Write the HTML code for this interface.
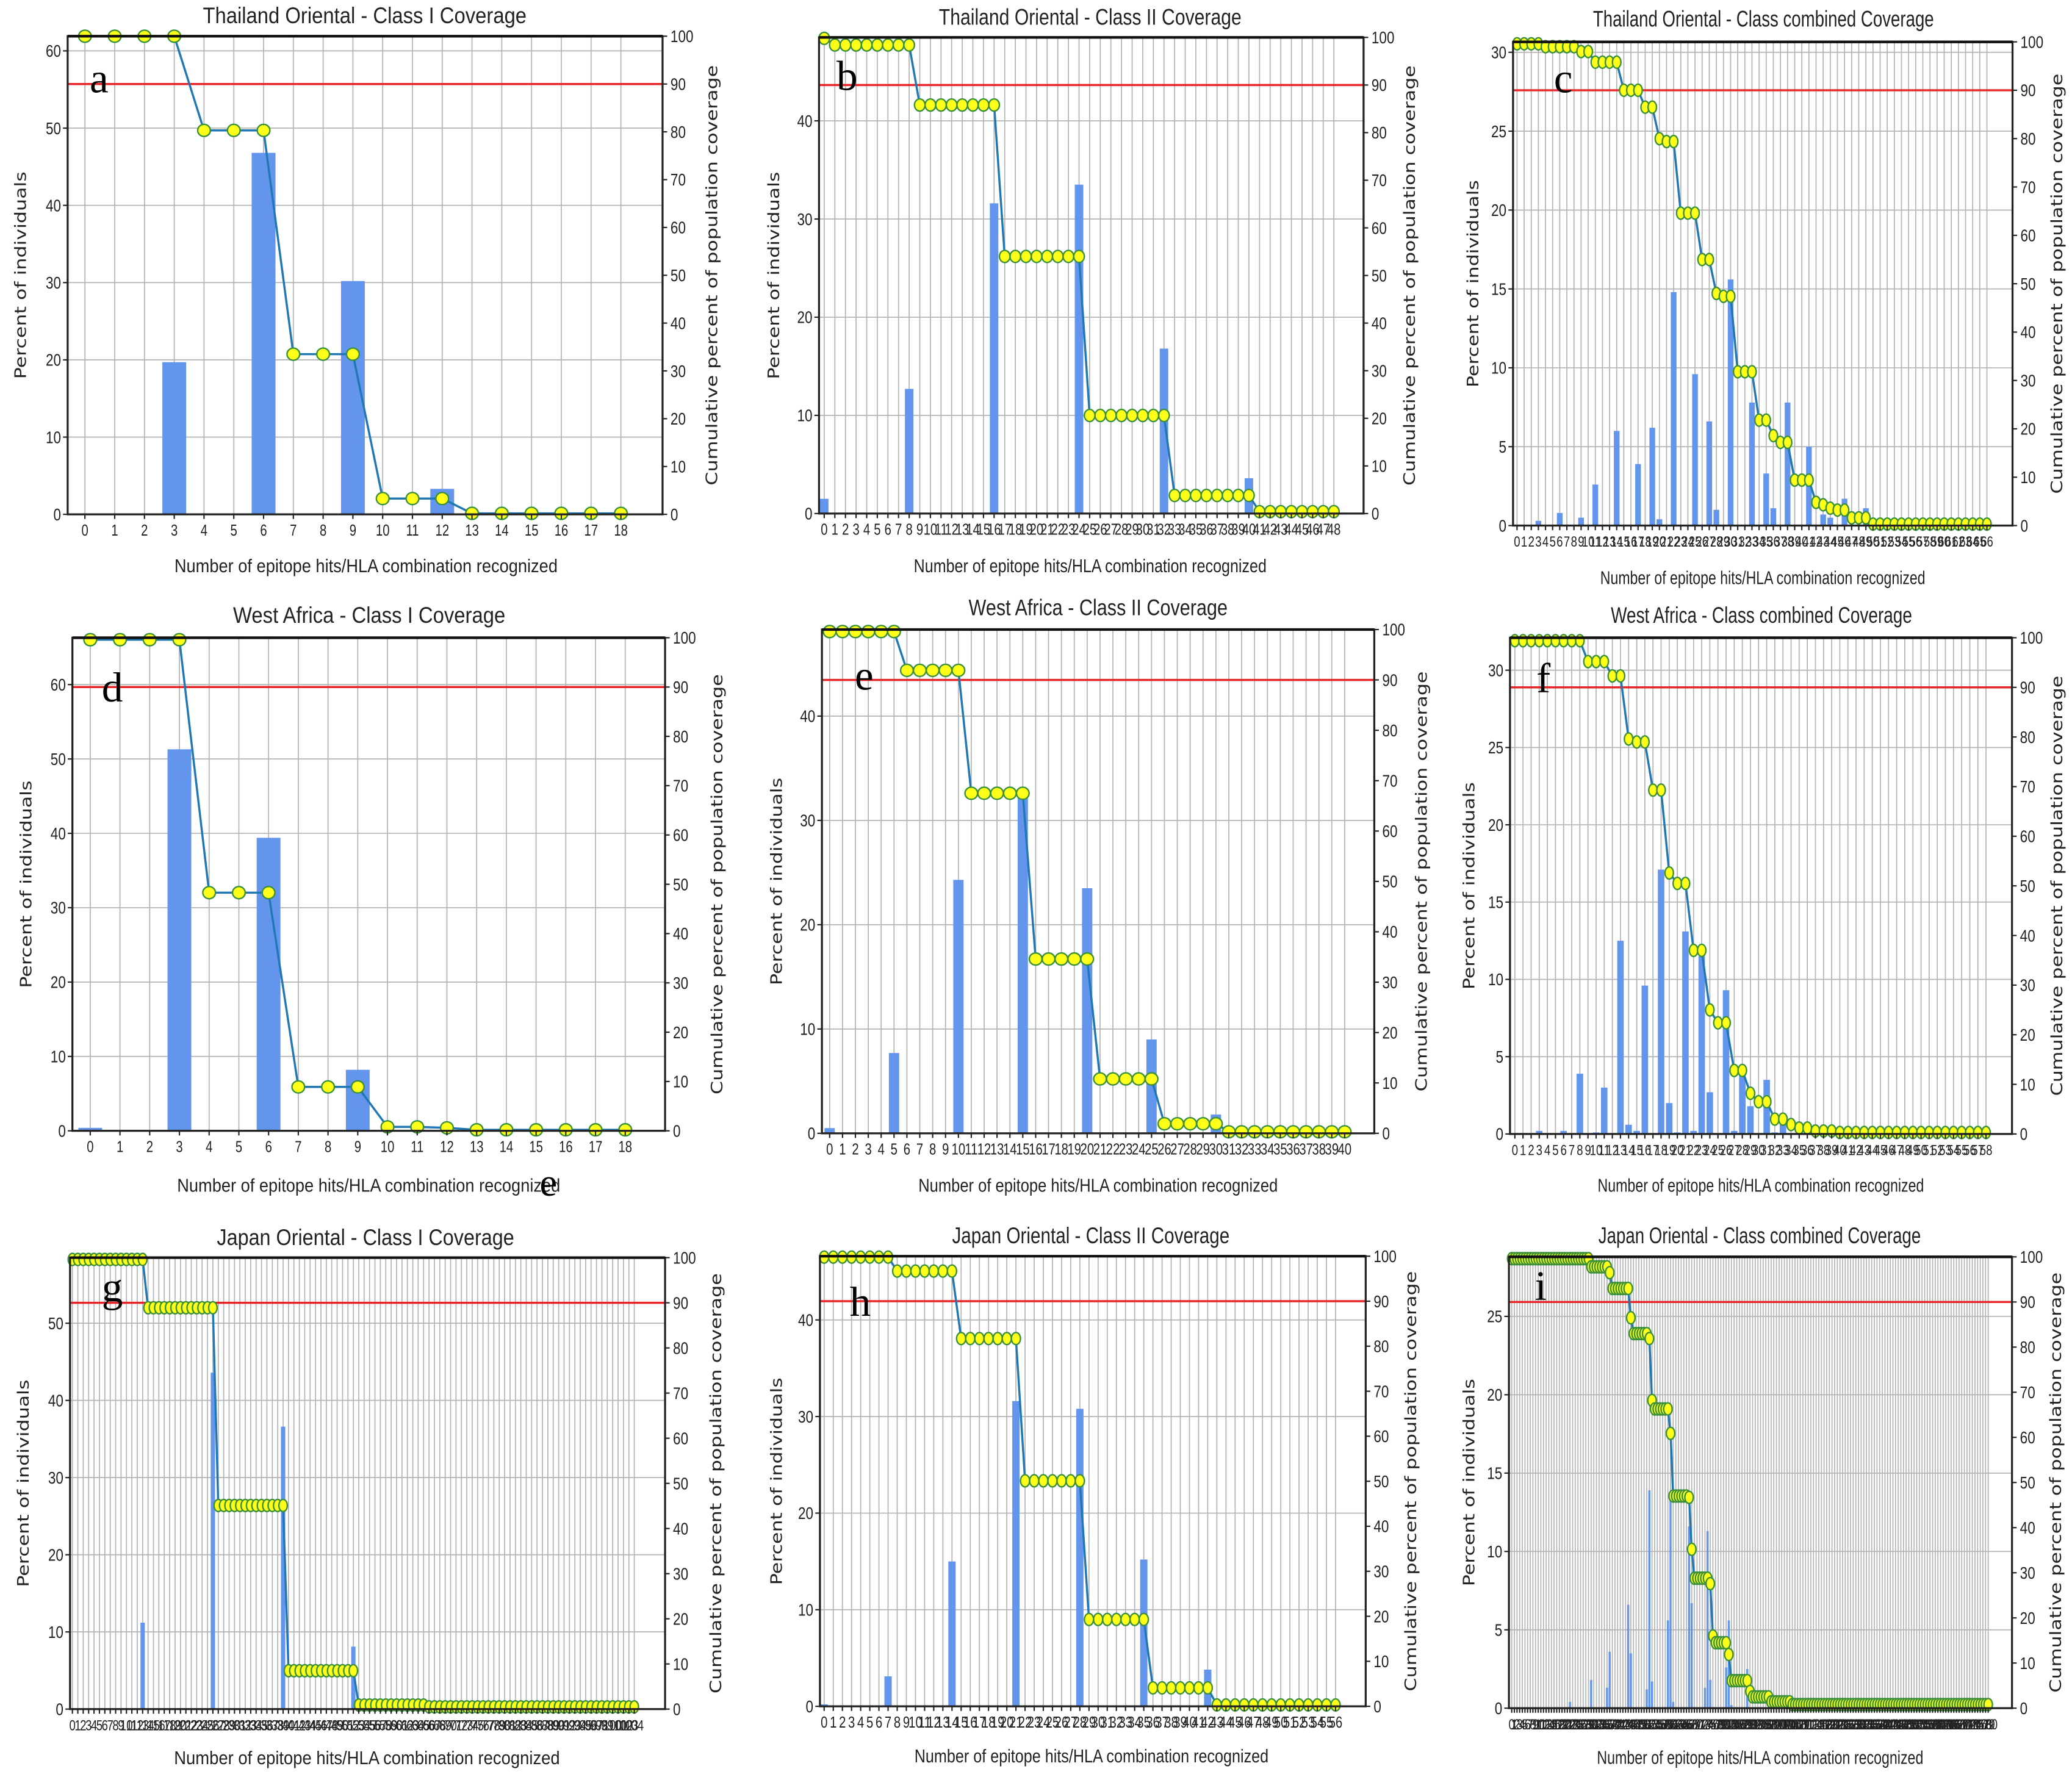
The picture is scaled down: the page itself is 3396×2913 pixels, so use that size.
<!DOCTYPE html>
<html><head><meta charset="utf-8"><title>Epitope population coverage</title>
<style>
html,body{margin:0;padding:0;background:#fff;}
svg{display:block;}
text{font-family:"Liberation Sans","DejaVu Sans",sans-serif;fill:#222;}
</style></head>
<body>
<svg id="fig" xmlns="http://www.w3.org/2000/svg" width="3396" height="2913" viewBox="0 0 1568 1345" preserveAspectRatio="none">
<rect x="0" y="0" width="1568" height="1345" fill="#fff"/>
</svg>
<script>
// ---------- DATA ----------
const aCategoryCount = 19;
const aBarCats = [3,6,9,12];
const aBarVals = [19.7,46.8,30.2,3.3];
const aCum = [100,100,100,100,80.3,80.3,80.3,33.5,33.5,33.5,3.3,3.3,3.3,0.2,0.2,0.2,0.2,0.2,0.2];
const aLeftTicks = [0,10,20,30,40,50,60];

const bCategoryCount = 49;
const bBarCats = [0,8,16,24,32,40];
const bBarVals = [1.5,12.7,31.6,33.5,16.8,3.6];
const bCum = [99.8,
 98.4,98.4,98.4,98.4,98.4,98.4,98.4,98.4,
 85.8,85.8,85.8,85.8,85.8,85.8,85.8,85.8,
 54,54,54,54,54,54,54,54,
 20.6,20.6,20.6,20.6,20.6,20.6,20.6,20.6,
 3.8,3.8,3.8,3.8,3.8,3.8,3.8,3.8,
 0.4,0.4,0.4,0.4,0.4,0.4,0.4,0.4];
const bLeftTicks = [0,10,20,30,40];

const cCategoryCount = 67;
const cBarCats = [3,6,9,11,14,17,19,20,22,25,27,28,30,33,35,36,38,41,43,44,46,49];
const cBarVals = [0.3,0.8,0.5,2.6,6.0,3.9,6.2,0.4,14.8,9.6,6.6,1.0,15.6,7.8,3.3,1.1,7.8,5.0,0.7,0.5,1.7,1.1];
const cCum = [99.6,99.6,99.6,99.6, 99,99,99,99,99, 98,98, 95.8,95.8,95.8,95.8, 90,90,90, 86.5,86.5, 80, 79.4,79.4,
 64.6,64.6,64.6, 55,55, 48, 47.4,47.4, 31.8,31.8,31.8, 21.8,21.8, 18.6, 17.2,17.2, 9.4,9.4,9.4, 4.8, 4.3, 3.6, 3.2,3.2,
 1.6,1.6,1.6,
 0.3,0.3,0.3,0.3,0.3,0.3,0.3,0.3,0.3,0.3,0.3,0.3,0.3,0.3,0.3,0.3,0.3];
const cLeftTicks = [0,5,10,15,20,25,30];

const dCategoryCount = 19;
const dBarCats = [0,3,6,9];
const dBarVals = [0.4,51.3,39.4,8.2];
const dCum = [99.6,99.6,99.6,99.6,48.3,48.3,48.3,8.9,8.9,8.9,0.8,0.8,0.6,0.2,0.2,0.2,0.2,0.2,0.2];
const dLeftTicks = [0,10,20,30,40,50,60];

const eCategoryCount = 41;
const eBarCats = [0,5,10,15,20,25,30];
const eBarVals = [0.5,7.7,24.3,32.8,23.5,9.0,1.8];
const eCum = [99.6,99.6,99.6,99.6,99.6,99.6,
 91.9,91.9,91.9,91.9,91.9,
 67.5,67.5,67.5,67.5,67.5,
 34.6,34.6,34.6,34.6,34.6,
 10.8,10.8,10.8,10.8,10.8,
 1.9,1.9,1.9,1.9,1.9,
 0.3,0.3,0.3,0.3,0.3,0.3,0.3,0.3,0.3,0.3];
const eLeftTicks = [0,10,20,30,40];

const fCategoryCount = 59;
const fBarCats = [3,6,8,10,11,13,14,15,16,18,19,20,21,22,23,24,26,27,28,29,31,32,33];
const fBarVals = [0.2,0.2,3.9,0.1,3.0,12.5,0.6,0.2,9.6,17.1,2.0,0.1,13.1,0.2,11.5,2.7,9.3,0.2,3.8,1.8,3.5,0.1,0.6];
const fCum = [99.4,99.4,99.4,99.4,99.4,99.4,99.4,99.4,99.4,
 95.2,95.2,95.2, 92.3,92.3, 79.6, 79,79, 69.3,69.3, 52.6, 50.5,50.5, 37,37, 25, 22.4,22.4,
 12.8,12.8, 8.2, 6.5,6.5, 3,3, 1.9, 1.2,1.2, 0.6,0.6,0.6,
 0.3,0.3,0.3,0.3,0.3,0.3,0.3,0.3,0.3,0.3,0.3,0.3,0.3,0.3,0.3,0.3,0.3,0.3,0.3];
const fLeftTicks = [0,5,10,15,20,25,30];

const gCategoryCount = 105;
const gBarCats = [13,26,39,52,65];
const gBarVals = [11.2,43.6,36.6,8.1,0.4];
const gCum = [
 99.6,99.6,99.6,99.6,99.6,99.6,99.6,99.6,99.6,99.6,99.6,99.6,99.6,99.6,
 88.9,88.9,88.9,88.9,88.9,88.9,88.9,88.9,88.9,88.9,88.9,88.9,88.9,
 45.1,45.1,45.1,45.1,45.1,45.1,45.1,45.1,45.1,45.1,45.1,45.1,45.1,
 8.5,8.5,8.5,8.5,8.5,8.5,8.5,8.5,8.5,8.5,8.5,8.5,8.5,
 0.9,0.9,0.9,0.9,0.9,0.9,0.9,0.9,0.9,0.9,0.9,0.9,0.9,
 0.5,0.5,0.5,0.5,0.5,0.5,0.5,0.5,0.5,0.5,
 0.5,0.5,0.5,0.5,0.5,0.5,0.5,0.5,0.5,0.5,
 0.5,0.5,0.5,0.5,0.5,0.5,0.5,0.5,0.5,0.5,
 0.5,0.5,0.5,0.5,0.5,0.5,0.5,0.5,0.5];
const gLeftTicks = [0,10,20,30,40,50];

const hCategoryCount = 57;
const hBarCats = [0,7,14,21,28,35,42];
const hBarVals = [0.2,3.1,15.0,31.6,30.8,15.2,3.8];
const hCum = [99.8,99.8,99.8,99.8,99.8,99.8,99.8,99.8,
 96.7,96.7,96.7,96.7,96.7,96.7,96.7,
 81.7,81.7,81.7,81.7,81.7,81.7,81.7,
 50.1,50.1,50.1,50.1,50.1,50.1,50.1,
 19.3,19.3,19.3,19.3,19.3,19.3,19.3,
 4.1,4.1,4.1,4.1,4.1,4.1,4.1,
 0.3,0.3,0.3,0.3,0.3,0.3,0.3,0.3,0.3,0.3,0.3,0.3,0.3,0.3];
const hLeftTicks = [0,10,20,30,40];

const iCategoryCount = 181;
const iBarCats = [22,30,36,37,44,45,51,52,53,59,60,61,67,68,73,74,75,81,82,83,89];
const iBarVals = [0.4,1.8,1.3,3.6,6.6,3.5,1.2,13.9,1.7,5.6,13.5,0.4,11.6,6.7,1.3,11.3,1.8,2.6,5.6,0.2,2.5];
const iCum = [
 99.6,99.6,99.6,99.6,99.6,99.6,99.6,99.6,99.6,99.6,
 99.6,99.6,99.6,99.6,99.6,99.6,99.6,99.6,99.6,99.6,
 99.6,99.6,99.6,99.6,99.6,99.6,99.6,99.6,99.6,99.6,
 97.8,97.8,97.8,97.8,97.8,97.8,97.8,
 96.5,
 93,93,93,93,93,93,93,
 86.5,
 83,83,83,83,83,83,
 81.9,
 68.2,
 66.3,66.3,66.3,66.3,66.3,66.3,
 60.9,
 47,47,47,47,47,47,
 46.7,
 35.2,
 28.8,28.8,28.8,28.8,28.8,28.8,
 27.6,
 16,
 14.5,14.5,14.5,14.5,14.5,
 11.9,
 6.1,6.1,6.1,6.1,6.1,6.1,6.1,
 3.7,
 2.5,2.5,2.5,2.5,2.5,2.5,2.5,
 1.4,1.4,1.4,1.4,1.4,1.4,1.4,1.4,
 0.8,0.8,0.8,0.8,0.8,0.8,0.8,0.8,0.8,0.8,
 0.8,0.8,0.8,0.8,0.8,0.8,0.8,0.8,0.8,0.8,
 0.8,0.8,0.8,0.8,0.8,0.8,0.8,0.8,0.8,0.8,
 0.8,0.8,0.8,0.8,0.8,0.8,0.8,0.8,0.8,0.8,
 0.8,0.8,0.8,0.8,0.8,0.8,0.8,0.8,0.8,0.8,
 0.8,0.8,0.8,0.8,0.8,0.8,0.8,0.8,0.8,0.8,
 0.8,0.8,0.8,0.8,0.8,0.8,0.8,0.8,0.8,0.8,
 0.8,0.8,0.8,0.8,0.8];
const iLeftTicks = [0,5,10,15,20,25];

const rightTicks = [0,10,20,30,40,50,60,70,80,90,100];
const thresholdPercent = 90;

// ---------- LAYOUT ----------
const panels = [
 {id:'a',title:'Thailand Oriental - Class I Coverage',n:aCategoryCount,bc:aBarCats,bv:aBarVals,cum:aCum,lt:aLeftTicks,
  L:51.2,R:501.4,T:27.4,B:389.3,x0:-0.58,x1:19.4,ymax:61.9,tx:276,ty:11.5,tw:245,lx:277,ly:428,lw:290,ylx:16,yrx:539,let:[75,70],fs:12},
 {id:'b',title:'Thailand Oriental - Class II Coverage',n:bCategoryCount,bc:bBarCats,bv:bBarVals,cum:bCum,lt:bLeftTicks,
  L:619.8,R:1031.9,T:28.3,B:388.7,x0:-0.49,x1:50.8,ymax:48.5,tx:825,ty:12.7,tw:229,lx:825,ly:428,lw:267,ylx:586,yrx:1067,let:[641,68],fs:12},
 {id:'c',title:'Thailand Oriental - Class combined Coverage',n:cCategoryCount,bc:cBarCats,bv:cBarVals,cum:cCum,lt:cLeftTicks,
  L:1145,R:1523,T:31.7,B:397.8,x0:-0.56,x1:69.6,ymax:30.66,tx:1334.5,ty:14.1,tw:258,lx:1334,ly:437,lw:246,ylx:1115,yrx:1557,let:[1183,70],fs:11},
 {id:'d',title:'West Africa - Class I Coverage',n:dCategoryCount,bc:dBarCats,bv:dBarVals,cum:dCum,lt:dLeftTicks,
  L:54.8,R:503.3,T:482.7,B:855.9,x0:-0.6,x1:19.34,ymax:66.3,tx:279.4,ty:465.4,tw:206,lx:279,ly:897,lw:290,ylx:20,yrx:543,let:[85,531],fs:12},
 {id:'e',title:'West Africa - Class II Coverage',n:eCategoryCount,bc:eBarCats,bv:eBarVals,cum:eCum,lt:eLeftTicks,
  L:622,R:1040,T:476.5,B:857.8,x0:-0.6,x1:42.3,ymax:48.3,tx:831,ty:459.7,tw:196,lx:831,ly:897,lw:272,ylx:588,yrx:1076,let:[654,522],fs:12},
 {id:'f',title:'West Africa - Class combined Coverage',n:fCategoryCount,bc:fBarCats,bv:fBarVals,cum:fCum,lt:fLeftTicks,
  L:1142.7,R:1522.6,T:482.7,B:858.3,x0:-0.6,x1:61.2,ymax:32.1,tx:1333,ty:465.4,tw:228,lx:1332.5,ly:897,lw:247,ylx:1112,yrx:1557,let:[1168,524],fs:11},
 {id:'g',title:'Japan Oriental - Class I Coverage',n:gCategoryCount,bc:gBarCats,bv:gBarVals,cum:gCum,lt:gLeftTicks,
  L:53,R:503.3,T:951.9,B:1293.6,x0:-0.44,x1:109.7,ymax:58.5,tx:276.6,ty:936.3,tw:225,lx:277.7,ly:1330.4,lw:292,ylx:18,yrx:542,let:[85,985],fs:11},
 {id:'h',title:'Japan Oriental - Class II Coverage',n:hCategoryCount,bc:hBarCats,bv:hBarVals,cum:hCum,lt:hLeftTicks,
  L:620.5,R:1033.5,T:950.8,B:1291.5,x0:-0.46,x1:59.3,ymax:46.6,tx:825.5,ty:935,tw:210,lx:826,ly:1329,lw:268,ylx:588,yrx:1068,let:[651,996],fs:12},
 {id:'i',title:'Japan Oriental - Class combined Coverage',n:iCategoryCount,bc:iBarCats,bv:iBarVals,cum:iCum,lt:iLeftTicks,
  L:1141.9,R:1522.6,T:951.3,B:1292.9,x0:-1.05,x1:189,ymax:28.8,tx:1331.6,ty:935,tw:244,lx:1332,ly:1330,lw:247,ylx:1112,yrx:1556,let:[1166,984],fs:11}
];

const NS = 'http://www.w3.org/2000/svg';
const svg = document.getElementById('fig');
function mk(tag, attrs, parent){
  const e = document.createElementNS(NS, tag);
  for (const k in attrs) e.setAttribute(k, attrs[k]);
  parent.appendChild(e);
  return e;
}

function drawPanel(p){
  const g = mk('g', {}, svg);
  
  
  const xs = c => p.L + (c - p.x0) / (p.x1 - p.x0) * (p.R - p.L);
  const yl = v => p.B - v / p.ymax * (p.B - p.T);
  const yr = v => p.B - v / 100 * (p.B - p.T);
  const step = xs(1) - xs(0);

  // grid
  const grid = mk('g', {stroke:'#b4b4b4','stroke-width':0.8}, g);
  
  
  for (let c = 0; c < p.n; c++) {
    mk('line', {x1:xs(c), x2:xs(c), y1:p.T, y2:p.B}, grid);
  }
  p.lt.forEach(v => { mk('line', {x1:p.L, x2:p.R, y1:yl(v), y2:yl(v)}, grid); });

  // bars
  const bars = mk('g', {fill:'#6495ed'}, g);
  
  
  p.bc.forEach((c, k) => {
    const v = p.bv[k];
    const r = mk('rect', {x:xs(c - 0.4), y:yl(v), width:Math.max(0.6, step*0.8), height:p.B - yl(v)}, bars);
    
    
  });

  // threshold line
  const red = mk('line', {x1:p.L, x2:p.R, y1:yr(thresholdPercent), y2:yr(thresholdPercent), stroke:'#e8262a','stroke-width':1.6}, g);
  
  

  // cumulative line
  let pts = '';
  for (let c = 0; c < p.n && c < p.cum.length; c++) pts += xs(c) + ',' + yr(p.cum[c]) + ' ';
  const pl = mk('polyline', {points:pts, fill:'none', stroke:'#1f77b4','stroke-width':1.6}, g);
  
  
  const mg = mk('g', {fill:'#ffff1a', stroke:'#3a8f3a','stroke-width':1.1}, g);
  
  
  const rx = Math.min(4.8, Math.max(step*0.5, 3.2));
  for (let c = 0; c < p.n && c < p.cum.length; c++) {
    const m = mk('ellipse', {cx:xs(c), cy:yr(p.cum[c]), rx:rx, ry:4.6}, mg);
    
    
  }

  // frame
  const fr = mk('rect', {x:p.L, y:p.T, width:p.R - p.L, height:p.B - p.T, fill:'none', stroke:'#222','stroke-width':1.5}, g);
  
  
  const topSp = mk('line', {x1:p.L, x2:p.R, y1:p.T, y2:p.T, stroke:'#111','stroke-width':2}, g);
  
  

  // ticks
  const tk = mk('g', {stroke:'#222','stroke-width':1}, g);
  
  
  for (let c = 0; c < p.n; c++) mk('line', {x1:xs(c), x2:xs(c), y1:p.B, y2:p.B + 3.5}, tk);
  p.lt.forEach(v => mk('line', {x1:p.L - 3.5, x2:p.L, y1:yl(v), y2:yl(v)}, tk));
  rightTicks.forEach(v => mk('line', {x1:p.R, x2:p.R + 3.5, y1:yr(v), y2:yr(v)}, tk));

  // x tick labels
  const xt = mk('g', {'font-size':p.fs,'text-anchor':'middle'}, g);
  
  
  for (let c = 0; c < p.n; c++) {
    const t = mk('text', {transform:'translate(' + xs(c) + ',' + (p.B + 16) + ') scale(0.78,1)'}, xt);
    t.textContent = String(c);
  }
  const ytl = mk('g', {'font-size':13,'text-anchor':'end'}, g);
  
  
  p.lt.forEach(v => {
    const t = mk('text', {transform:'translate(' + (p.L - 5) + ',' + (yl(v) + 4.5) + ') scale(0.8,1)'}, ytl);
    t.textContent = String(v);
  });
  const ytr = mk('g', {'font-size':13,'text-anchor':'start'}, g);
  
  
  rightTicks.forEach(v => {
    const t = mk('text', {transform:'translate(' + (p.R + 6) + ',' + (yr(v) + 4.5) + ') scale(0.8,1)'}, ytr);
    t.textContent = String(v);
  });

  // title & labels
  const tt = mk('text', {x:p.tx, y:p.ty + 6, 'font-size':17, 'text-anchor':'middle', textLength:p.tw, lengthAdjust:'spacingAndGlyphs'}, g);
  
  
  tt.textContent = p.title;
  const xl = mk('text', {x:p.lx, y:p.ly + 5, 'font-size':14, 'text-anchor':'middle', textLength:p.lw, lengthAdjust:'spacingAndGlyphs'}, g);
  
  
  xl.textContent = 'Number of epitope hits/HLA combination recognized';
  const yc = (p.T + p.B) / 2;
  const yL = mk('text', {x:p.ylx, y:yc, 'font-size':12, 'text-anchor':'middle', 'dominant-baseline':'central', transform:'rotate(-90 ' + p.ylx + ' ' + yc + ')', textLength:157, lengthAdjust:'spacingAndGlyphs', style:'font-family:"DejaVu Sans",sans-serif'}, g);
  
  
  yL.textContent = 'Percent of individuals';
  const yR = mk('text', {x:p.yrx, y:yc, 'font-size':12, 'text-anchor':'middle', 'dominant-baseline':'central', transform:'rotate(-90 ' + p.yrx + ' ' + yc + ')', textLength:318, lengthAdjust:'spacingAndGlyphs', style:'font-family:"DejaVu Sans",sans-serif'}, g);
  
  
  yR.textContent = 'Cumulative percent of population coverage';
  const lt = mk('text', {x:p.let[0], y:p.let[1], 'font-size':32, 'text-anchor':'middle', style:'font-family:"Liberation Serif",serif;fill:#000'}, g);
  
  
  lt.textContent = p.id;
}

panels.forEach(drawPanel);

const stray = mk('text', {x:415, y:905, 'font-size':30, 'text-anchor':'middle', style:'font-family:"Liberation Serif",serif;fill:#000'}, svg);


stray.textContent = 'e';
</script>
</body></html>
